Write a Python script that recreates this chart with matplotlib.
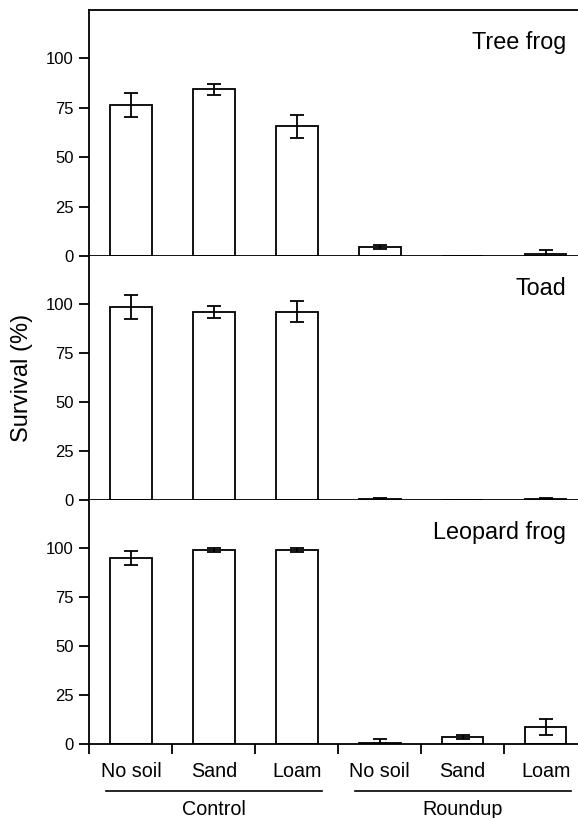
import matplotlib
matplotlib.use("Agg")
import matplotlib.pyplot as plt
import matplotlib.transforms as mtransforms
import numpy as np

plt.rcParams['font.family'] = ['Liberation Sans', 'DejaVu Sans']

species = ["Tree frog", "Toad", "Leopard frog"]
soil_labels = ["No soil", "Sand", "Loam", "No soil", "Sand", "Loam"]
groups = ["Control", "Roundup"]

tree_frog_mean = [76.5, 84.2, 65.5, 4.5, 0.0, 1.0]
tree_frog_se = [6.0, 3.0, 6.0, 1.0, 0.0, 2.0]
toad_mean = [98.5, 96.0, 96.0, 0.4, 0.0, 0.4]
toad_se = [6.0, 3.0, 5.5, 0.4, 0.0, 0.4]
leopard_mean = [94.7, 98.8, 98.8, 0.5, 3.4, 8.5]
leopard_se = [3.5, 1.0, 1.0, 2.2, 1.0, 4.0]

means = [tree_frog_mean, toad_mean, leopard_mean]
ses = [tree_frog_se, toad_se, leopard_se]

W, H = 578, 818
fig = plt.figure(figsize=(W / 100, H / 100), dpi=100)
left = 89 / W
right = 1.0
tops_px = [10, 256, 500]
bots_px = [256, 500, 744]

x = np.arange(len(soil_labels))
lw = 1.3
axes = []
for i in range(3):
    b = 1 - bots_px[i] / H
    t = 1 - tops_px[i] / H
    ax = fig.add_axes([left, b, right - left, t - b])
    axes.append(ax)
    ax.bar(x, means[i], width=0.5, color='white', edgecolor='black',
           linewidth=lw, zorder=2)
    ax.errorbar(x, means[i], yerr=ses[i], fmt='none', ecolor='black',
                elinewidth=lw, capsize=5, capthick=lw, zorder=3)
    ax.set_xlim(-0.506, 5.39)
    ax.set_ylim(0, 124.4)
    ax.set_yticks([0, 25, 50, 75, 100])
    ax.tick_params(axis='y', direction='out', length=7, width=lw,
                   labelsize=12, pad=4)
    ax.spines['right'].set_visible(False)
    ax.spines['top'].set_visible(i == 0)
    for s in ['left', 'bottom', 'top']:
        ax.spines[s].set_linewidth(lw)
    ax.text(0.9755, 1 - 39 / (bots_px[i] - tops_px[i]), species[i],
            transform=ax.transAxes, ha='right', va='baseline', fontsize=16.8)
    if i < 2:
        ax.set_xticks([])
    else:
        ax.set_xticks(np.arange(-0.5, 5.0, 1.0))
        ax.set_xticklabels([])
        ax.tick_params(axis='x', which='major', direction='out', length=7,
                       width=lw)
        ax.set_xticks(x, minor=True)
        ax.set_xticklabels(soil_labels, minor=True, fontsize=14.2)
        ax.tick_params(axis='x', which='minor', length=0, pad=13)

ax = axes[2]
trans = mtransforms.blended_transform_factory(ax.transData, ax.transAxes)
axh = bots_px[2] - tops_px[2]
line_y = -(791 - 744) / axh
text_y = -(815 - 744) / axh
for g, (a, bb) in enumerate([(0, 2), (3, 5)]):
    ax.plot([a - 0.3, bb + 0.3], [line_y, line_y], color='black', lw=1.2,
            transform=trans, clip_on=False)
    ax.text((a + bb) / 2, text_y, groups[g], transform=trans, ha='center',
            va='baseline', fontsize=14.2)

fig.text(22 / W, 1 - 378 / H, "Survival (%)", rotation=90, ha='center',
         va='center', fontsize=17)

fig.savefig("out.png", dpi=100)
